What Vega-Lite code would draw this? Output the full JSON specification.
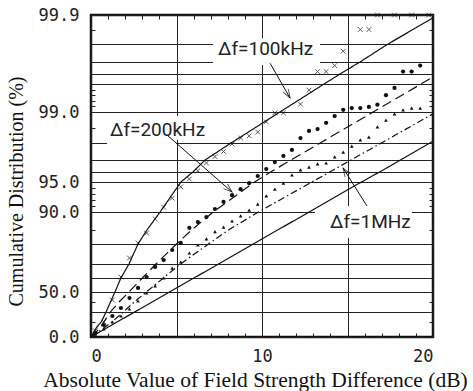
{
  "$schema": "https://vega.github.io/schema/vega-lite/v6.json",
  "width": 342,
  "height": 322,
  "autosize": "none",
  "padding": {"left": 91, "top": 15, "right": 40, "bottom": 54},
  "background": "white",
  "config": {
    "font": "Liberation Serif",
    "view": {"stroke": "#111", "strokeWidth": 2.5},
    "axis": {
      "domain": false,
      "labelFont": "DejaVu Sans Mono",
      "labelFontSize": 17,
      "labelColor": "#222",
      "titleFont": "Liberation Serif",
      "titleFontWeight": "normal",
      "titleColor": "#111",
      "gridColor": "#222",
      "gridWidth": 1,
      "tickColor": "#222",
      "labelOverlap": false
    }
  },
  "datasets": {
    "curves": [
      {"s": "a", "x": 0, "p": 0}, {"s": "a", "x": 0.3, "p": 10}, {"s": "a", "x": 0.6, "p": 20}, {"s": "a", "x": 0.88, "p": 30}, {"s": "a", "x": 1.14, "p": 40}, {"s": "a", "x": 1.4, "p": 50}, {"s": "a", "x": 1.75, "p": 60}, {"s": "a", "x": 2.22, "p": 70}, {"s": "a", "x": 2.75, "p": 80}, {"s": "a", "x": 3.27, "p": 85}, {"s": "a", "x": 4.04, "p": 90}, {"s": "a", "x": 5.26, "p": 95}, {"s": "a", "x": 5.96, "p": 96}, {"s": "a", "x": 6.67, "p": 97}, {"s": "a", "x": 8.19, "p": 98}, {"s": "a", "x": 11.05, "p": 99}, {"s": "a", "x": 13.63, "p": 99.5}, {"s": "a", "x": 14.56, "p": 99.6}, {"s": "a", "x": 15.73, "p": 99.7}, {"s": "a", "x": 17.37, "p": 99.8}, {"s": "a", "x": 20, "p": 99.89},
      {"s": "b", "x": 0, "p": 0}, {"s": "b", "x": 0.53, "p": 10}, {"s": "b", "x": 0.75, "p": 20}, {"s": "b", "x": 1.13, "p": 30}, {"s": "b", "x": 1.64, "p": 40}, {"s": "b", "x": 2.22, "p": 50}, {"s": "b", "x": 3.0, "p": 60}, {"s": "b", "x": 3.8, "p": 70}, {"s": "b", "x": 5.0, "p": 80}, {"s": "b", "x": 5.88, "p": 85}, {"s": "b", "x": 7.15, "p": 90}, {"s": "b", "x": 9.57, "p": 95}, {"s": "b", "x": 10.5, "p": 96}, {"s": "b", "x": 11.7, "p": 97}, {"s": "b", "x": 13.4, "p": 98}, {"s": "b", "x": 16.5, "p": 99}, {"s": "b", "x": 20, "p": 99.57},
      {"s": "c", "x": 0, "p": 0}, {"s": "c", "x": 0.75, "p": 10}, {"s": "c", "x": 1.22, "p": 20}, {"s": "c", "x": 1.89, "p": 30}, {"s": "c", "x": 2.53, "p": 40}, {"s": "c", "x": 3.24, "p": 50}, {"s": "c", "x": 4.23, "p": 60}, {"s": "c", "x": 5.23, "p": 70}, {"s": "c", "x": 6.87, "p": 80}, {"s": "c", "x": 8.04, "p": 85}, {"s": "c", "x": 9.79, "p": 90}, {"s": "c", "x": 12.92, "p": 95}, {"s": "c", "x": 13.96, "p": 96}, {"s": "c", "x": 15.2, "p": 97}, {"s": "c", "x": 16.98, "p": 98}, {"s": "c", "x": 20, "p": 98.94},
      {"s": "d", "x": 0, "p": 0}, {"s": "d", "x": 2.5, "p": 29.5}, {"s": "d", "x": 5, "p": 52.9}, {"s": "d", "x": 7.5, "p": 70.2}, {"s": "d", "x": 10, "p": 81.8}, {"s": "d", "x": 12.5, "p": 89.3}, {"s": "d", "x": 15, "p": 93.7}, {"s": "d", "x": 17.5, "p": 96.5}, {"s": "d", "x": 20, "p": 98.06}
    ],
    "pts": [
      {"s": "x", "x": 0.25, "p": 7}, {"s": "x", "x": 0.75, "p": 20}, {"s": "x", "x": 1.25, "p": 42}, {"s": "x", "x": 1.75, "p": 60.7}, {"s": "x", "x": 2.25, "p": 73}, {"s": "x", "x": 2.75, "p": 80.4}, {"s": "x", "x": 3.25, "p": 83.9}, {"s": "x", "x": 3.75, "p": 88.1}, {"s": "x", "x": 4.25, "p": 90.8}, {"s": "x", "x": 4.75, "p": 92.3}, {"s": "x", "x": 5.25, "p": 94.2}, {"s": "x", "x": 5.75, "p": 95.3}, {"s": "x", "x": 6.25, "p": 96.1}, {"s": "x", "x": 6.75, "p": 96.75}, {"s": "x", "x": 7.25, "p": 97.2}, {"s": "x", "x": 7.75, "p": 97.5}, {"s": "x", "x": 8.25, "p": 97.94}, {"s": "x", "x": 8.75, "p": 98.16}, {"s": "x", "x": 9.25, "p": 98.23}, {"s": "x", "x": 9.75, "p": 98.35}, {"s": "x", "x": 10.25, "p": 98.68}, {"s": "x", "x": 10.75, "p": 98.97}, {"s": "x", "x": 11.25, "p": 98.97}, {"s": "x", "x": 12.25, "p": 99.14}, {"s": "x", "x": 12.75, "p": 99.39}, {"s": "x", "x": 13.25, "p": 99.62}, {"s": "x", "x": 13.75, "p": 99.62}, {"s": "x", "x": 14.25, "p": 99.67}, {"s": "x", "x": 14.75, "p": 99.76}, {"s": "x", "x": 15.75, "p": 99.85}, {"s": "x", "x": 16.25, "p": 99.85}, {"s": "x", "x": 16.75, "p": 99.9}, {"s": "x", "x": 17.75, "p": 99.9}, {"s": "x", "x": 18.75, "p": 99.9}, {"s": "x", "x": 19.75, "p": 99.9},
      {"s": "o", "x": 0.25, "p": 4.4}, {"s": "o", "x": 0.75, "p": 15}, {"s": "o", "x": 1.25, "p": 26}, {"s": "o", "x": 1.75, "p": 34}, {"s": "o", "x": 2.25, "p": 44}, {"s": "o", "x": 2.75, "p": 52.9}, {"s": "o", "x": 3.25, "p": 60.7}, {"s": "o", "x": 3.75, "p": 67.9}, {"s": "o", "x": 4.25, "p": 72}, {"s": "o", "x": 4.75, "p": 77}, {"s": "o", "x": 5.25, "p": 80.4}, {"s": "o", "x": 5.75, "p": 85.6}, {"s": "o", "x": 6.25, "p": 87.2}, {"s": "o", "x": 6.75, "p": 88.6}, {"s": "o", "x": 7.25, "p": 90.5}, {"s": "o", "x": 7.75, "p": 91.7}, {"s": "o", "x": 8.25, "p": 92.8}, {"s": "o", "x": 8.75, "p": 93.8}, {"s": "o", "x": 9.25, "p": 94.8}, {"s": "o", "x": 9.75, "p": 95.6}, {"s": "o", "x": 10.25, "p": 96.25}, {"s": "o", "x": 10.75, "p": 96.83}, {"s": "o", "x": 11.25, "p": 97.24}, {"s": "o", "x": 11.75, "p": 97.59}, {"s": "o", "x": 12.25, "p": 98.16}, {"s": "o", "x": 12.75, "p": 98.39}, {"s": "o", "x": 13.25, "p": 98.45}, {"s": "o", "x": 13.75, "p": 98.65}, {"s": "o", "x": 14.25, "p": 98.87}, {"s": "o", "x": 14.75, "p": 99.04}, {"s": "o", "x": 15.25, "p": 99.07}, {"s": "o", "x": 15.75, "p": 99.07}, {"s": "o", "x": 16.25, "p": 99.09}, {"s": "o", "x": 16.75, "p": 99.13}, {"s": "o", "x": 17.25, "p": 99.3}, {"s": "o", "x": 17.75, "p": 99.43}, {"s": "o", "x": 18.25, "p": 99.62}, {"s": "o", "x": 18.75, "p": 99.62}, {"s": "o", "x": 19.25, "p": 99.67},
      {"s": "t", "x": 0.25, "p": 3.3}, {"s": "t", "x": 0.75, "p": 8.9}, {"s": "t", "x": 1.25, "p": 20}, {"s": "t", "x": 1.75, "p": 26}, {"s": "t", "x": 2.25, "p": 33}, {"s": "t", "x": 2.75, "p": 41}, {"s": "t", "x": 3.25, "p": 49}, {"s": "t", "x": 3.75, "p": 54.3}, {"s": "t", "x": 4.25, "p": 60}, {"s": "t", "x": 4.75, "p": 67}, {"s": "t", "x": 5.25, "p": 71}, {"s": "t", "x": 5.75, "p": 75.5}, {"s": "t", "x": 6.25, "p": 79.5}, {"s": "t", "x": 6.75, "p": 81.8}, {"s": "t", "x": 7.25, "p": 84.4}, {"s": "t", "x": 7.75, "p": 85.8}, {"s": "t", "x": 8.25, "p": 87.5}, {"s": "t", "x": 8.75, "p": 88.9}, {"s": "t", "x": 9.25, "p": 90.3}, {"s": "t", "x": 9.75, "p": 91.3}, {"s": "t", "x": 10.25, "p": 92.7}, {"s": "t", "x": 10.75, "p": 93.8}, {"s": "t", "x": 11.25, "p": 94.8}, {"s": "t", "x": 11.75, "p": 95.7}, {"s": "t", "x": 12.25, "p": 96.17}, {"s": "t", "x": 12.75, "p": 96.4}, {"s": "t", "x": 13.25, "p": 96.67}, {"s": "t", "x": 13.75, "p": 96.75}, {"s": "t", "x": 14.25, "p": 97.18}, {"s": "t", "x": 14.75, "p": 97.47}, {"s": "t", "x": 15.25, "p": 97.82}, {"s": "t", "x": 15.75, "p": 98.1}, {"s": "t", "x": 16.25, "p": 98.19}, {"s": "t", "x": 16.75, "p": 98.52}, {"s": "t", "x": 17.25, "p": 98.74}, {"s": "t", "x": 17.75, "p": 98.94}, {"s": "t", "x": 18.25, "p": 99.04}, {"s": "t", "x": 18.75, "p": 99.07}, {"s": "t", "x": 19.25, "p": 99.07}
    ],
    "notes": [
      {"t": "Δf=100kHz", "x": 7.43, "p": 99.77},
      {"t": "Δf=200kHz", "x": 1.11, "p": 98.42},
      {"t": "Δf=1MHz", "x": 13.98, "p": 87.2}
    ],
    "arrows": [
      {"x": 10.47, "p": 99.69, "x2": 11.64, "p2": 99.25, "a": 150},
      {"x": 4.44, "p": 98.26, "x2": 8.25, "p2": 93.33, "a": 131},
      {"x": 16.14, "p": 91.0, "x2": 14.74, "p2": 96.33, "a": -32}
    ],
    "boxes": [
      {"x": 7.13, "x2": 13.39, "p": 99.675, "p2": 99.82},
      {"x": 0.94, "x2": 6.96, "p": 98.1, "p2": 98.87},
      {"x": 0.94, "x2": 4.97, "p": 97.82, "p2": 98.1},
      {"x": 13.1, "x2": 18.77, "p": 82.1, "p2": 91.0}
    ]
  },
  "resolve": {"axis": {"x": "independent", "y": "independent"}},
  "layer": [
    {
      "data": {"name": "boxes"},
      "mark": {"type": "rect", "fill": "white", "stroke": null},
      "encoding": {
        "x": {
          "field": "x", "type": "quantitative",
          "scale": {"domain": [0, 20], "nice": false, "zero": false},
          "axis": {
            "title": "Absolute Value of Field Strength Difference (dB)",
            "titleFont": "Liberation Serif",
            "titleFontSize": 21.5,
            "values": [0,1,2,3,4,5,6,7,8,9,10,11,12,13,14,15,16,17,18,19,20],
            "labelExpr": "datum.value % 10 === 0 ? datum.label : ''",
            "labelPadding": 15,
            "gridOpacity": {"condition": {"test": "datum.value % 5 === 0", "value": 1}, "value": 0},
            "tickOpacity": {"condition": {"test": "datum.value % 5 === 0", "value": 0}, "value": 1},
            "tickSize": -4,
            "titleX": 164, "titleY": 43, "titleBaseline": "middle", "titleAnchor": null
          }
        },
        "x2": {"field": "x2"},
        "y": {
          "field": "p", "type": "quantitative",
          "scale": {
            "type": "linear", "nice": false, "zero": false,
            "domain": [0, 10, 20, 30, 40, 50, 60, 70, 80, 85, 90, 95, 96, 97, 98, 99, 99.5, 99.6, 99.7, 99.8, 99.9],
            "range": [322, 313, 307, 297, 287, 277, 263, 249, 229, 215, 197, 167, 157, 145, 128, 97, 69, 59, 47, 29, 0]
          },
          "axis": {
            "title": "Cumulative Distribution (%)",
            "titleFont": "Liberation Serif",
            "titleFontSize": 20,
            "values": [0,20,30,40,50,60,70,80,85,90,91,92,93,94,95,96,97,98,98.5,99,99.1,99.2,99.3,99.4,99.5,99.6,99.7,99.8,99.85,99.9],
            "labelExpr": "indexof([0,50,90,95,99,99.9], datum.value) >= 0 ? format(datum.value, '.1f') : ''",
            "labelPadding": 16,
            "gridOpacity": {"condition": {"test": "indexof([0,30,50,60,70,80,90,95,96,97,98,99,99.5,99.6,99.7,99.8,99.9], datum.value) >= 0", "value": 1}, "value": 0},
            "tickOpacity": {"condition": {"test": "indexof([0,30,50,60,70,80,90,95,96,97,98,99,99.5,99.6,99.7,99.8,99.9], datum.value) >= 0", "value": 0}, "value": 1},
            "tickSize": -4,
            "titleX": -75, "titleY": 176, "titleBaseline": "middle", "titleAnchor": null
          }
        },
        "y2": {"field": "p2"}
      }
    },
    {
      "data": {"name": "curves"},
      "mark": {"type": "line", "color": "#111", "strokeWidth": 1.2},
      "encoding": {
        "x": {"field": "x", "type": "quantitative", "axis": null},
        "y": {"field": "p", "type": "quantitative", "axis": null},
        "detail": {"field": "s"},
        "strokeDash": {"field": "s", "type": "nominal", "legend": null,
          "scale": {"domain": ["a", "b", "c", "d"], "range": [[1, 0], [10, 5], [7, 3, 1.5, 3], [1, 0]]}}
      }
    },
    {
      "data": {"name": "pts"},
      "transform": [{"filter": "datum.s === 'x'"}],
      "mark": {"type": "point", "shape": "M-1,-1L1,1M-1,1L1,-1", "filled": false, "stroke": "#111", "strokeWidth": 1, "size": 22},
      "encoding": {
        "x": {"field": "x", "type": "quantitative", "axis": null},
        "y": {"field": "p", "type": "quantitative", "axis": null}
      }
    },
    {
      "data": {"name": "pts"},
      "transform": [{"filter": "datum.s === 'o'"}],
      "mark": {"type": "point", "shape": "circle", "filled": true, "fill": "#111", "opacity": 1, "size": 18},
      "encoding": {
        "x": {"field": "x", "type": "quantitative", "axis": null},
        "y": {"field": "p", "type": "quantitative", "axis": null}
      }
    },
    {
      "data": {"name": "pts"},
      "transform": [{"filter": "datum.s === 't'"}],
      "mark": {"type": "point", "shape": "triangle-up", "filled": true, "fill": "#111", "opacity": 1, "size": 14},
      "encoding": {
        "x": {"field": "x", "type": "quantitative", "axis": null},
        "y": {"field": "p", "type": "quantitative", "axis": null}
      }
    },
    {
      "data": {"name": "arrows"},
      "mark": {"type": "rule", "color": "#111", "strokeWidth": 1},
      "encoding": {
        "x": {"field": "x", "type": "quantitative",
          "axis": {"orient": "top", "title": null, "labels": false, "grid": false, "values": [1,2,3,4,6,7,8,9,11,12,13,14,16,17,18,19], "tickSize": -4}},
        "y": {"field": "p", "type": "quantitative",
          "axis": {"orient": "right", "title": null, "labels": false, "grid": false, "values": [20,40,85,91,92,93,94,98.5,99.1,99.2,99.3,99.4,99.85], "tickSize": -4}},
        "x2": {"field": "x2"},
        "y2": {"field": "p2"}
      }
    },
    {
      "data": {"name": "arrows"},
      "mark": {"type": "point", "shape": "M-0.35,1L0,0L0.35,1", "filled": false, "stroke": "#111", "strokeWidth": 1, "size": 300},
      "encoding": {
        "x": {"field": "x2", "type": "quantitative", "axis": null},
        "y": {"field": "p2", "type": "quantitative", "axis": null},
        "angle": {"field": "a", "type": "quantitative", "scale": null}
      }
    },
    {
      "data": {"name": "notes"},
      "mark": {"type": "text", "font": "Roboto", "fontSize": 19, "color": "#222", "align": "left", "baseline": "middle"},
      "encoding": {
        "x": {"field": "x", "type": "quantitative", "axis": null},
        "y": {"field": "p", "type": "quantitative", "axis": null},
        "text": {"field": "t"}
      }
    }
  ]
}
